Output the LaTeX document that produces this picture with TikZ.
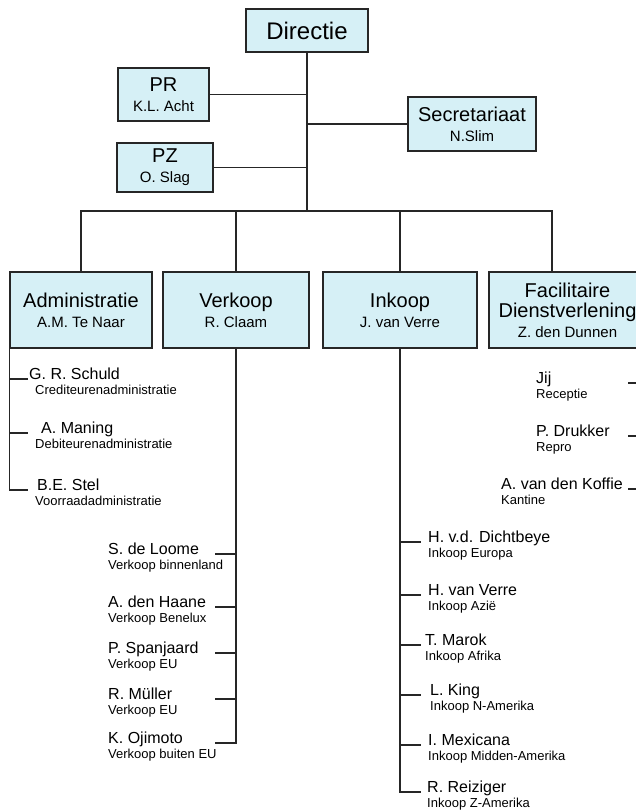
\documentclass[tikz,border=0pt]{standalone}
\usepackage{fontspec}
\setmainfont{Liberation Sans}
\definecolor{lichtblauw}{RGB}{214,240,246}
\tikzset{
	hokje/.style={draw=black!85,line width=1.5pt,fill=lichtblauw,align=center,inner sep=0pt,font=\fontsize{20}{20}\selectfont},
	lijn/.style={line width=1.5pt,black!85,line cap=rect},
	naam/.style={inner sep=0pt,anchor=base west,font=\fontsize{16}{16}\selectfont},
	taak/.style={inner sep=0pt,anchor=base west,font=\fontsize{13}{13}\selectfont},
}
\newcommand{\klein}{\fontsize{15}{15}\selectfont}
\begin{document}
\begin{tikzpicture}[x=1pt,y=-1pt]
	\useasboundingbox (0,0) rectangle (636,811);
	\clip (0,0) rectangle (636,811);
	\fill[white] (0,0) rectangle (636,811);
	\node[hokje,minimum width=122pt,minimum height=43pt,font=\fontsize{24}{24}\selectfont] (dir) at (307,30.5) {Directie};
	\node[hokje,minimum width=91pt,minimum height=53pt] (pr) at (163.5,94.5) {PR\\{\klein K.L. Acht}};
	\node[hokje,minimum width=128pt,minimum height=54pt] (sec) at (472,124) {Secretariaat\\{\klein N.Slim}};
	\node[hokje,minimum width=96pt,minimum height=49pt] (pz) at (165,167.5) {PZ\\{\klein O. Slag}};
	\coordinate (knoop) at (307,211);
	\draw[lijn] (dir) -- (knoop);
	\foreach \n in {pr,sec,pz}
		\draw[lijn] (\n) -- (\n -| knoop);
	\begin{scope}[minimum height=76pt]
		\node[hokje,minimum width=142pt] (adm) at (81,310) {Administratie\\{\klein A.M. Te Naar}};
		\node[hokje,minimum width=146pt] (vk) at (236,310) {Verkoop\\{\klein R. Claam}};
		\node[hokje,minimum width=154pt] (ink) at (400,310) {Inkoop\\{\klein J. van Verre}};
		\node[hokje,minimum width=157pt] (fac) at (567.5,310) {Facilitaire\\Dienstverlening\\{\klein Z. den Dunnen}};
	\end{scope}
	\coordinate (drop) at (552,211);
	\draw[lijn] (adm.north |- knoop) -- (drop);
	\foreach \n in {adm,vk,ink}
		\draw[lijn] (\n.north |- knoop) -- (\n.north);
	\draw[lijn] (drop) -- (drop |- fac.north);
	\foreach \nm/\ds/\x/\y [count=\i] in {G. R. Schuld/Crediteurenadministratie/29/379,A. Maning/Debiteurenadministratie/41/433,B.E. Stel/Voorraadadministratie/37/490}{
		\node[naam] (adm\i) at (\x,\y) {\nm};
		\node[taak] (admt\i) at (35,\y+15) {\ds};
		\draw[lijn] (adm.south west |- adm\i.base) -- ++(18,0);
	}
	\draw[lijn] (adm.south west) -- (adm.south west |- adm3.base);
	\foreach \nm/\ds/\y [count=\i] in {S. de Loome/Verkoop binnenland/554,A. den Haane/Verkoop Benelux/607,P. Spanjaard/Verkoop EU/653,R. Müller/Verkoop EU/699,K. Ojimoto/Verkoop buiten EU/743}{
		\node[naam] (vk\i) at (108,\y) {\nm};
		\node[taak] (vkt\i) at (108,\y+15) {\ds};
		\draw[lijn] (vk.south |- vk\i.base) -- ++(-20,0);
	}
	\draw[lijn] (vk.south) -- (vk.south |- vk5.base);
	\foreach \nm/\ds/\x/\y [count=\i] in {H. v.d. Dichtbeye/Inkoop Europa/428/542,H. van Verre/Inkoop Azië/428/595,T. Marok/Inkoop Afrika/425/645,L. King/Inkoop N-Amerika/430/695,I. Mexicana/Inkoop Midden-Amerika/428/745,R. Reiziger/Inkoop Z-Amerika/427/792}{
		\node[naam] (ink\i) at (\x,\y) {\nm};
		\node[taak] (inkt\i) at (\x,\y+15) {\ds};
		\draw[lijn] (ink.south |- ink\i.base) -- ++(20,0);
	}
	\draw[lijn] (ink.south) -- (ink.south |- ink6.base);
	\foreach \nm/\ds/\x/\y [count=\i] in {Jij/Receptie/536/383,P. Drukker/Repro/536/436,A. van den Koffie/Kantine/501/489}{
		\node[naam] (fac\i) at (\x,\y) {\nm};
		\node[taak] (fact\i) at (\x,\y+15) {\ds};
		\draw[lijn] (fac.south east |- fac\i.base) -- ++(-18,0);
	}
	\draw[lijn] (fac.south east) -- (fac.south east |- fac3.base);
\end{tikzpicture}
\end{document}
